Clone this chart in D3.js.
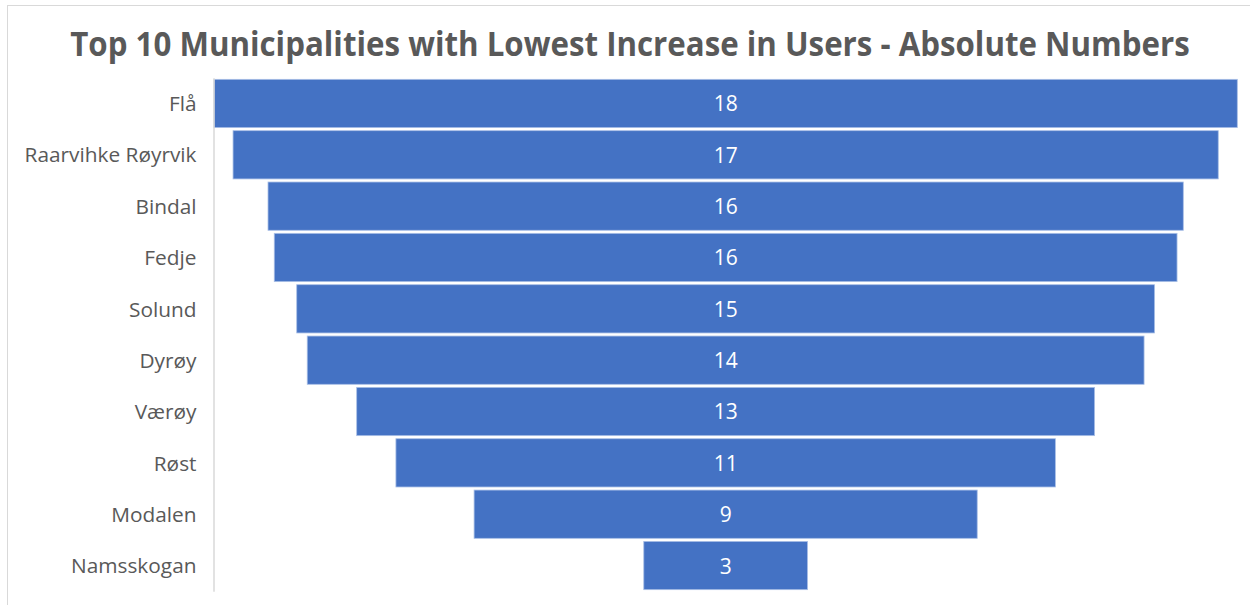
<!DOCTYPE html>
<html>
<head>
<meta charset="utf-8">
<script src="https://cdn.jsdelivr.net/npm/d3@7"></script>
<style>
  html, body { margin: 0; padding: 0; background: #fff; }
  svg { display: block; }
</style>
</head>
<body>
<svg id="chart" width="1250" height="605"></svg>
<script>
// ---- data ----
const titleText = "Top 10 Municipalities with Lowest Increase in Users - Absolute Numbers";
const categories = ["Flå", "Raarvihke Røyrvik", "Bindal", "Fedje", "Solund", "Dyrøy", "Værøy", "Røst", "Modalen", "Namsskogan"];
const values = [18, 17.33, 16.1, 15.88, 15.09, 14.72, 12.98, 11.6, 8.85, 2.88];
const valueLabels = ["18", "17", "16", "16", "15", "14", "13", "11", "9", "3"];

// ---- layout ----
const W = 1250, H = 605;
const plot = { left: 214, right: 1237.3, top: 77.8, bottom: 591.2 };
const centerX = (plot.left + plot.right) / 2;
const svg = d3.select("#chart");
const font = "'Open Sans', 'DejaVu Sans', sans-serif";

// chart border (partially visible)
svg.append("rect")
  .attr("x", 7.5).attr("y", 5.5)
  .attr("width", W + 20).attr("height", H + 20)
  .attr("fill", "#fff").attr("stroke", "#d9d9d9").attr("stroke-width", 1);

// scales
const y = d3.scaleBand()
  .domain(categories)
  .range([plot.top, plot.bottom])
  .paddingInner(0.06).paddingOuter(0.03);
const w = d3.scaleLinear()
  .domain([0, d3.max(values)])
  .range([0, plot.right - plot.left]);

const data = categories.map((c, i) => ({ cat: c, v: values[i], label: valueLabels[i] }));

// title
const title = svg.append("text")
  .attr("x", 630).attr("y", 56)
  .attr("text-anchor", "middle")
  .attr("font-family", font).attr("font-weight", 700)
  .attr("font-size", 30).attr("fill", "#595959")
  .text(titleText);
{
  const len = title.node().getComputedTextLength();
  title.attr("font-size", 30 * 1120 / len)
    .attr("transform", "translate(630,56) scale(1,1.1) translate(-630,-56)");
}

// bars
svg.append("g").selectAll("rect")
  .data(data).join("rect")
  .attr("x", d => centerX - w(d.v) / 2)
  .attr("y", d => y(d.cat))
  .attr("width", d => w(d.v))
  .attr("height", y.bandwidth())
  .attr("fill", "#4472C4")
  .attr("stroke", "#a9bfe6").attr("stroke-width", 0.8);

// value labels
svg.append("g").selectAll("text")
  .data(data).join("text")
  .attr("x", centerX)
  .attr("y", d => y(d.cat) + y.bandwidth() / 2)
  .attr("dy", "0.38em")
  .attr("text-anchor", "middle")
  .attr("font-family", font).attr("font-size", 21)
  .attr("fill", "#fff")
  .text(d => d.label);

// category axis
const axisG = svg.append("g")
  .attr("transform", `translate(${plot.left - 0.5},1)`)
  .call(d3.axisLeft(y).tickSize(0).tickPadding(17));
axisG.select(".domain").attr("stroke", "#d9d9d9").attr("stroke-width", 1.5)
  .attr("transform", "translate(0,-1)");
axisG.selectAll("text")
  .attr("font-family", font).attr("font-size", 19)
  .attr("fill", "#595959");
{
  let maxLen = 0;
  axisG.selectAll("text").each(function () {
    if (this.textContent === "Raarvihke Røyrvik") maxLen = this.getComputedTextLength();
  });
  if (maxLen > 0) axisG.selectAll("text").attr("font-size", 19 * 172 / maxLen);
}
</script>
</body>
</html>
